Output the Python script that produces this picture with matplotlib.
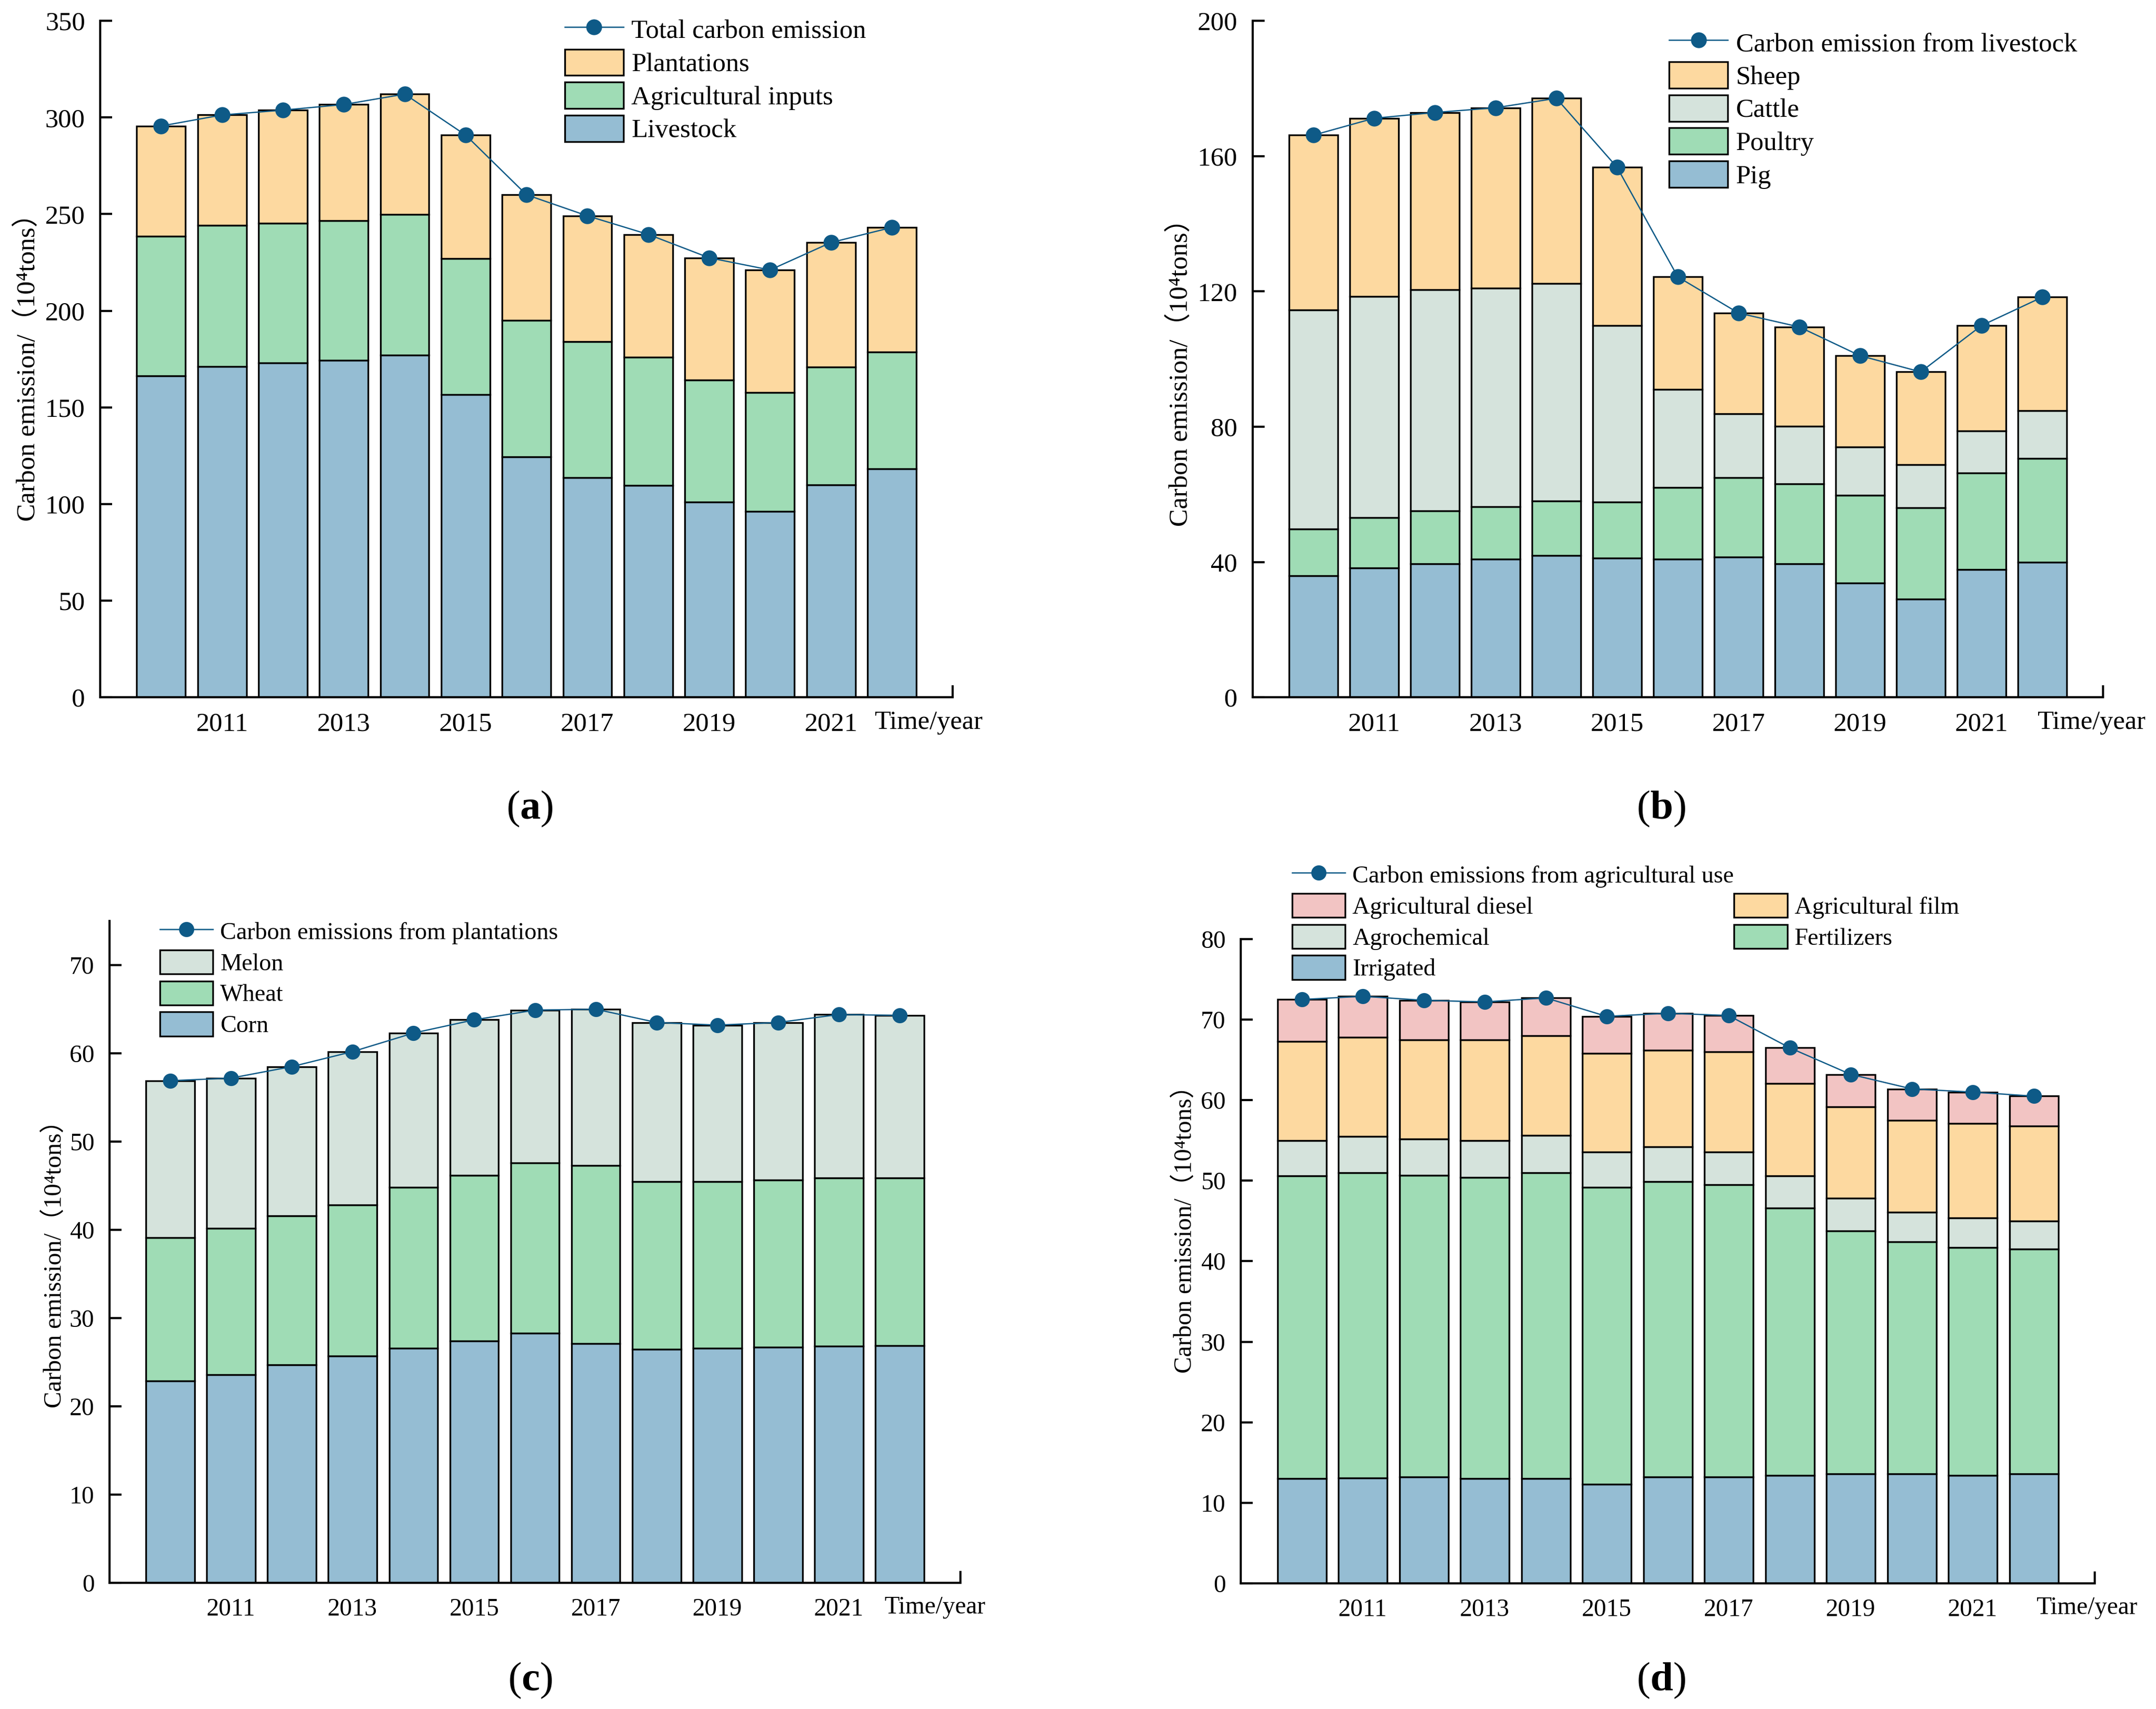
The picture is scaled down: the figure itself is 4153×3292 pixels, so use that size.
import matplotlib
matplotlib.use("Agg")
import matplotlib.pyplot as plt
from matplotlib.patches import Patch

plt.rcParams['font.family'] = ['Liberation Serif', 'Noto Sans CJK SC', 'DejaVu Serif']
plt.rcParams['mathtext.fontset'] = 'custom'
plt.rcParams['mathtext.rm'] = 'Liberation Serif'
plt.rcParams['mathtext.it'] = 'Liberation Serif:italic'
plt.rcParams['mathtext.bf'] = 'Liberation Serif:bold'

years = [2010, 2011, 2012, 2013, 2014, 2015, 2016, 2017, 2018, 2019, 2020, 2021, 2022]

# (a) total
total_all = [295.6, 301.3, 303.8, 306.7, 312.1, 290.9, 260.0, 249.1, 239.5, 227.4, 221.1, 235.3, 243.1]
livestock = [166.2, 171.2, 172.9, 174.3, 177.1, 156.7, 124.3, 113.6, 109.5, 101.0, 96.2, 109.9, 118.3]
ag_inputs = [72.5, 72.9, 72.4, 72.2, 72.7, 70.4, 70.8, 70.5, 66.5, 63.2, 61.4, 61.0, 60.5]
plantations = [56.9, 57.2, 58.5, 60.2, 62.3, 63.8, 64.9, 65.0, 63.5, 63.2, 63.5, 64.4, 64.3]

# (b) livestock
pig = [35.9, 38.2, 39.5, 40.8, 42.0, 41.1, 40.8, 41.5, 39.5, 33.8, 29.1, 37.8, 39.9]
poultry = [13.8, 14.9, 15.6, 15.6, 16.0, 16.6, 21.3, 23.4, 23.6, 25.9, 26.9, 28.5, 30.8]
cattle = [64.8, 65.4, 65.4, 64.6, 64.4, 52.2, 29.0, 18.9, 17.0, 14.3, 12.8, 12.5, 14.1]
sheep = [51.7, 52.7, 52.4, 53.3, 54.7, 46.8, 33.2, 29.8, 29.4, 27.0, 27.4, 31.1, 33.5]

# (c) plantations
corn = [22.9, 23.6, 24.7, 25.7, 26.6, 27.4, 28.3, 27.1, 26.5, 26.6, 26.7, 26.8, 26.9]
wheat = [16.2, 16.6, 16.9, 17.1, 18.2, 18.8, 19.3, 20.2, 19.0, 18.9, 18.95, 19.1, 19.0]
melon = [17.8, 17.0, 16.9, 17.4, 17.5, 17.6, 17.3, 17.7, 18.0, 17.7, 17.85, 18.5, 18.4]

# (d) agricultural use
irrigated = [13.0, 13.1, 13.2, 13.0, 13.0, 12.3, 13.2, 13.2, 13.4, 13.6, 13.6, 13.4, 13.6]
fertilizers = [37.6, 37.9, 37.5, 37.4, 38.0, 36.9, 36.7, 36.3, 33.2, 30.2, 28.8, 28.3, 27.9]
agrochemical = [4.4, 4.5, 4.5, 4.6, 4.6, 4.4, 4.3, 4.1, 4.0, 4.0, 3.7, 3.7, 3.5]
ag_film = [12.3, 12.3, 12.3, 12.5, 12.4, 12.2, 12.0, 12.4, 11.5, 11.4, 11.4, 11.7, 11.8]
ag_diesel = [5.2, 5.1, 4.9, 4.7, 4.7, 4.6, 4.6, 4.5, 4.4, 4.0, 3.9, 3.9, 3.7]

major_years = [2011, 2013, 2015, 2017, 2019, 2021, 2023]
major_labels = ['2011', '2013', '2015', '2017', '2019', '2021', '']
minor_years = [2010, 2012, 2014, 2016, 2018, 2020, 2022]

c_blue = '#95bdd3'
c_green = '#9fdcb5'
c_peach = '#fdd9a0'
c_grey = '#d5e3dc'
c_pink = '#f2c4c3'
c_line = '#0e5a87'

ylabel = 'Carbon emission/（10⁴tons）'


def stack(ax, parts, colors, names):
    bottom = [0] * len(years)
    bars = []
    for vals, col, nm in zip(parts, colors, names):
        b = ax.bar(years, vals, width=0.8, bottom=bottom, color=col,
                   edgecolor='black', linewidth=0.8, label=nm, zorder=2)
        bars.append(b)
        bottom = [p + v for p, v in zip(bottom, vals)]
    return bars


def style(ax, ytop, ystep, fs, ylab_x, ylab_y, time_x):
    ax.set_xlim(2009, 2023)
    ax.set_ylim(0, ytop)
    ax.set_yticks(range(0, ytop + 1, ystep))
    ax.set_xticks(major_years)
    ax.set_xticklabels(major_labels)
    ax.set_xticks(minor_years, minor=True)
    ax.spines['top'].set_visible(False)
    ax.spines['right'].set_visible(False)
    ax.spines['left'].set_linewidth(1.0)
    ax.spines['bottom'].set_linewidth(1.0)
    ax.tick_params(which='major', direction='in', length=5.5, width=1.0,
                   labelsize=fs, pad=7)
    ax.tick_params(axis='x', which='minor', direction='in', length=2.4, width=1.0)
    ax.set_ylabel(ylabel, fontsize=fs)
    ax.yaxis.set_label_coords(ylab_x, ylab_y)
    ax.annotate('Time/year', xy=(time_x, 0), xycoords='axes fraction',
                xytext=(0, -6), textcoords='offset points',
                ha='right', va='top', fontsize=fs)


def legend(ax, handles, anchor, fs, sp, ncol=1):
    ax.legend(handles=handles, loc='upper left', bbox_to_anchor=anchor, ncol=ncol,
              frameon=False, fontsize=fs, handlelength=2.2, handleheight=1.15,
              labelspacing=sp, handletextpad=0.3, borderpad=0, borderaxespad=0,
              columnspacing=0.0, numpoints=1)


fig = plt.figure(figsize=(4153 / 300, 3292 / 300), dpi=300)

# (a)
ax = fig.add_axes([0.0465, 0.5920, 0.3954, 0.3958])
bars = stack(ax, [livestock, ag_inputs, plantations], [c_blue, c_green, c_peach],
             ['Livestock', 'Agricultural inputs', 'Plantations'])
ln, = ax.plot(years, total_all, '-o', color=c_line, lw=0.6, ms=6.3, zorder=5,
              label='Total carbon emission')
style(ax, 350, 50, 12.3, -0.070, 0.497, 1.035)
legend(ax, [ln] + bars[::-1], (0.545, 1.007), 12.3, 0.19)

# (b)
ax = fig.add_axes([0.5810, 0.5920, 0.3944, 0.3958])
bars = stack(ax, [pig, poultry, cattle, sheep], [c_blue, c_green, c_grey, c_peach],
             ['Pig', 'Poultry', 'Cattle', 'Sheep'])
ln, = ax.plot(years, livestock, '-o', color=c_line, lw=0.6, ms=6.3, zorder=5,
              label='Carbon emission from livestock')
style(ax, 200, 40, 12.3, -0.070, 0.490, 1.050)
legend(ax, [ln] + bars[::-1], (0.49, 0.988), 12.3, 0.19)

# (c)
ax = fig.add_axes([0.0508, 0.0738, 0.3947, 0.3873])
bars = stack(ax, [corn, wheat, melon], [c_blue, c_green, c_grey],
             ['Corn', 'Wheat', 'Melon'])
ln, = ax.plot(years, plantations, '-o', color=c_line, lw=0.6, ms=6.0, zorder=5,
              label='Carbon emissions from plantations')
style(ax, 75, 10, 11.5, -0.051, 0.491, 1.029)
legend(ax, [ln] + bars[::-1], (0.059, 1.003), 11.2, 0.23)

# (d)
ax = fig.add_axes([0.5755, 0.0735, 0.3961, 0.3770])
bars = stack(ax, [irrigated, fertilizers, agrochemical, ag_film, ag_diesel],
             [c_blue, c_green, c_grey, c_peach, c_pink],
             ['Irrigated', 'Fertilizers', 'Agrochemical', 'Agricultural film',
              'Agricultural diesel'])
ln, = ax.plot(years, ag_inputs, '-o', color=c_line, lw=0.6, ms=6.0, zorder=5,
              label='Carbon emissions from agricultural use')
style(ax, 80, 10, 11.5, -0.052, 0.559, 1.050)
blank = Patch(facecolor='none', edgecolor='none', label=' ')
legend(ax, [ln, bars[4], bars[2], bars[0], blank, bars[3], bars[1], blank],
       (0.060, 1.119), 11.2, 0.23, ncol=2)

# panel letters
for x, y, s in [(0.2458, 0.5267, 'a'), (0.7705, 0.5267, 'b'),
                (0.2458, 0.0167, 'c'), (0.7705, 0.0167, 'd')]:
    fig.text(x, y, '($\\mathbf{' + s + '}$)', fontsize=19, ha='center', va='center')

fig.savefig('out.png', dpi=300)
